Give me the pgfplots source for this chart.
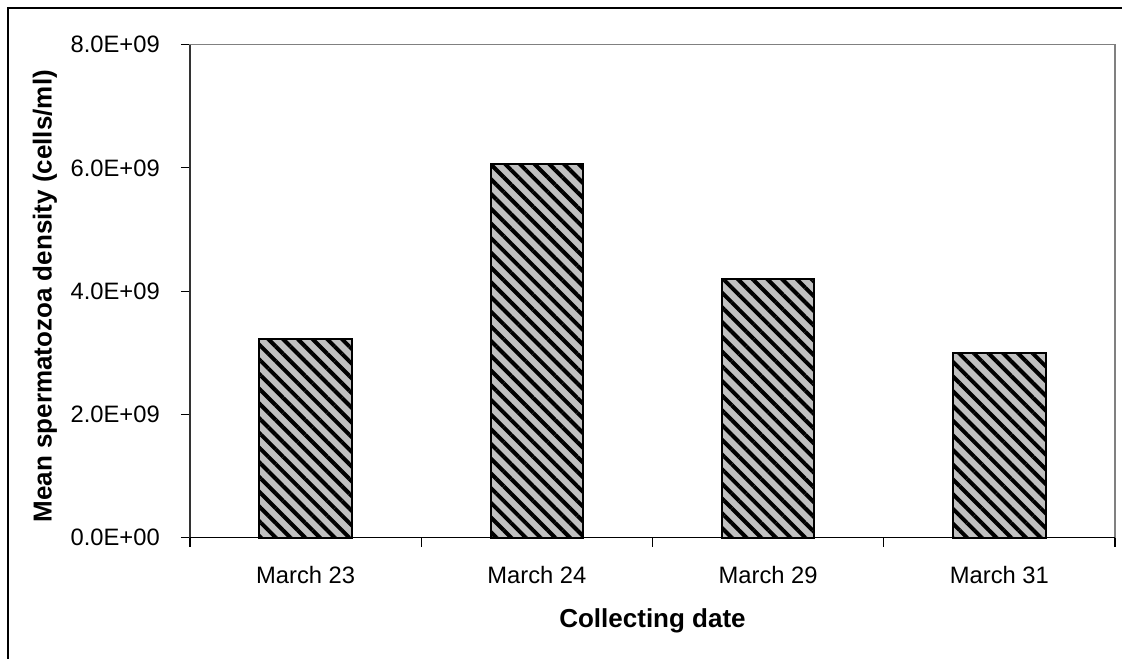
\documentclass[border=0pt]{standalone}
\usepackage{pgfplots}
\pgfplotsset{compat=1.18}
\usetikzlibrary{patterns.meta}
\usepackage{fontspec}
\setmainfont{Liberation Sans}
\definecolor{barfill}{RGB}{192,192,192}
\begin{document}
\begin{tikzpicture}
\useasboundingbox (-142.5pt,-90.975pt) rectangle (699pt,403.275pt);
\clip (-142.5pt,-90.975pt) rectangle (699pt,403.275pt);
\draw[black, line width=1.5pt] (-136.5pt,-120pt) -- (-136.5pt,397.275pt) -- (720pt,397.275pt);
\begin{axis}[
  at={(0,0)}, anchor=south west,
  scale only axis, width=693.75pt, height=369.75pt,
  ybar, bar width=0.4,
  xmin=-0.5, xmax=3.5, ymin=0, ymax=8e9,
  xtick={-0.5,0.5,1.5,2.5,3.5}, xticklabels={},
  extra x ticks={0,1,2,3},
  extra x tick labels={March 23,March 24,March 29,March 31},
  extra x tick style={major tick length=0pt},
  ytick={0,2e9,4e9,6e9,8e9},
  yticklabels={0.0E+00,2.0E+09,4.0E+09,6.0E+09,8.0E+09},
  scaled y ticks=false,
  xtick pos=bottom, ytick pos=left,
  tick align=outside,
  major tick length=6.75pt,
  tick style={black, line width=0.8pt},
  axis line style={draw=gray, line width=0.9pt},
  xticklabel style={font=\fontsize{17.8pt}{20pt}\selectfont, anchor=base, inner sep=0pt, yshift=-34.7pt},
  yticklabel style={font=\fontsize{17.8pt}{20pt}\selectfont, anchor=east, inner sep=0pt, xshift=-15.75pt},
  xlabel={Collecting date},
  ylabel={Mean spermatozoa density (cells/ml)},
  xlabel style={font=\fontsize{19.5pt}{22pt}\selectfont\bfseries, at={([yshift=-67.7pt]axis description cs:0.5,0)}, anchor=base},
  ylabel style={font=\fontsize{19.5pt}{22pt}\selectfont\bfseries, at={([xshift=-108.75pt,yshift=-3.75pt]axis description cs:0,0.5)}, anchor=center},
  clip=false,
]
\addplot[draw=black, line width=1.5pt, preaction={fill=barfill},
  pattern color=black, pattern={Lines[angle=-45,distance=7.8pt,line width=3pt]}]
  coordinates {(0,3.22e9) (1,6.06e9) (2,4.2e9) (3,3.0e9)};
\draw[black!80, line width=0.9pt] (rel axis cs:0,1) -- (rel axis cs:0,0);
\draw[black, line width=0.9pt] (rel axis cs:0,0) -- (rel axis cs:1,0);
\end{axis}
\end{tikzpicture}
\end{document}
